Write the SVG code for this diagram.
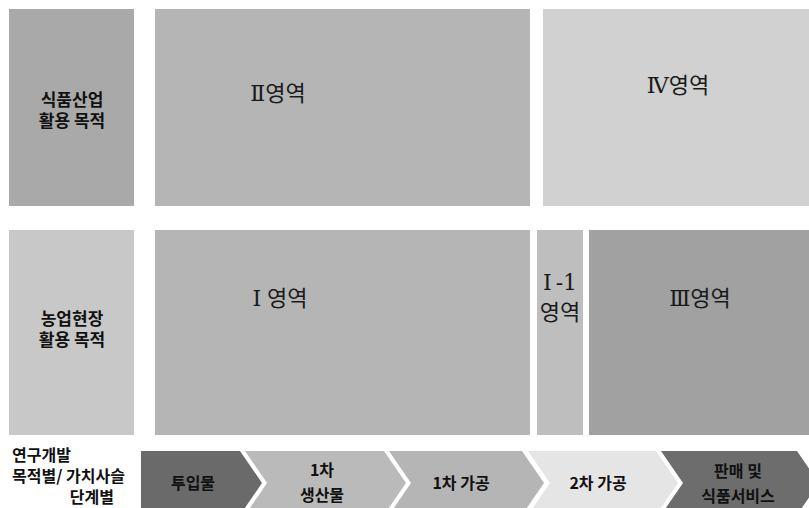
<svg xmlns="http://www.w3.org/2000/svg" width="809" height="508" viewBox="0 0 809 508">
<style>
.lbl{font-family:"Noto Sans CJK KR","Noto Sans",sans-serif;font-weight:bold;font-size:17px;fill:#111;text-anchor:middle}
.row{font-family:"Noto Sans CJK KR","Noto Sans",sans-serif;font-weight:bold;font-size:16px;fill:#111}
.reg{font-family:"DejaVu Serif","Noto Sans CJK KR",serif;font-size:22px;fill:#1a1a1a;text-anchor:middle}
.chv{font-family:"Noto Sans CJK KR","Noto Sans",sans-serif;font-weight:bold;font-size:16px;fill:#111;text-anchor:middle}
</style>
<rect width="809" height="508" fill="#ffffff"/>
<g id="food-purpose">
<rect x="9" y="9" width="125" height="197" fill="#a9a9a9"/>
<text class="lbl"><tspan x="72" y="106">식품산업</tspan><tspan x="72" y="127">활용 목적</tspan></text>
</g>
<g id="farm-purpose">
<rect x="9" y="230" width="125" height="205" fill="#c8c8c8"/>
<text class="lbl"><tspan x="72" y="325">농업현장</tspan><tspan x="72" y="346">활용 목적</tspan></text>
</g>
<g id="region-2">
<rect x="155" y="9" width="375" height="197" fill="#b5b5b5"/>
<text class="reg" x="278" y="101">Ⅱ영역</text>
</g>
<g id="region-4">
<rect x="543" y="9" width="266" height="197" fill="#d1d1d1"/>
<text class="reg" x="678" y="93">Ⅳ영역</text>
</g>
<g id="region-1">
<rect x="155" y="230" width="375" height="205" fill="#b5b5b5"/>
<text class="reg" x="280" y="306">Ⅰ<tspan dx="6">영역</tspan></text>
</g>
<g id="region-1-1">
<rect x="537" y="230" width="46" height="205" fill="#bebebe"/>
<text class="reg" x="560" y="290">Ⅰ<tspan dx="4">-1</tspan></text>
<text class="reg" x="560" y="320">영역</text>
</g>
<g id="region-3">
<rect x="589" y="230" width="220" height="205" fill="#a1a1a1"/>
<text class="reg" x="700" y="306">Ⅲ영역</text>
</g>
<g id="row-label">
<text class="row"><tspan x="12" y="461">연구개발</tspan><tspan x="12" y="482">목적별/ 가치사슬</tspan><tspan x="114" y="503" text-anchor="end">단계별</tspan></text>
</g>
<g id="stage-input">
<polygon points="141,451 240,451 262,483 240,515 141,515" fill="#6a6a6a"/>
<text class="chv" x="193" y="489">투입물</text>
</g>
<g id="stage-primary">
<polygon points="245,451 384,451 406,483 384,515 245,515 267,483" fill="#bababa"/>
<text class="chv"><tspan x="322" y="476">1차</tspan><tspan x="322" y="501">생산물</tspan></text>
</g>
<g id="stage-process1">
<polygon points="389,451 522,451 544,483 522,515 389,515 411,483" fill="#b5b5b5"/>
<text class="chv" x="461" y="489">1차 가공</text>
</g>
<g id="stage-process2">
<polygon points="528,451 656,451 678,483 656,515 528,515 550,483" fill="#e5e5e5"/>
<text class="chv" x="598" y="489">2차 가공</text>
</g>
<g id="stage-sales">
<polygon points="661,451 797,451 819,483 797,515 661,515 683,483" fill="#6d6d6d"/>
<text class="chv"><tspan x="738" y="477">판매 및</tspan><tspan x="738" y="502">식품서비스</tspan></text>
</g>
<g id="connectors"/>
</svg>
